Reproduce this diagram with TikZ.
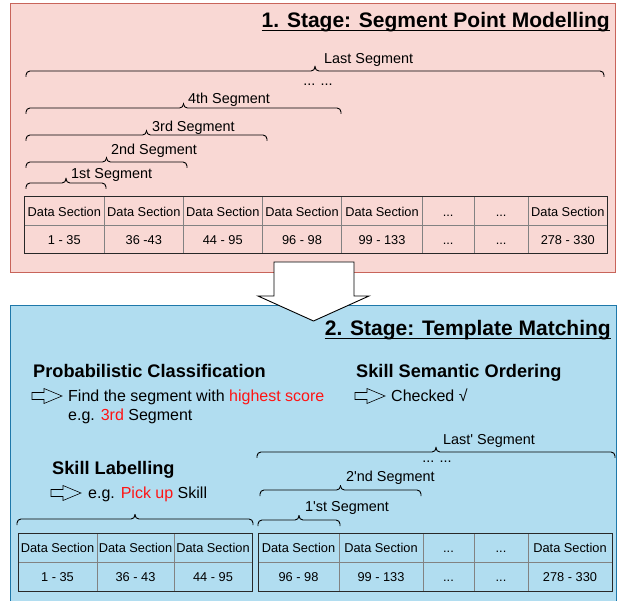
\documentclass[tikz,border=0pt]{standalone}
\usepackage{fontspec}
\setmainfont[Ligatures=TeXOff]{Liberation Sans}
\definecolor{pinkfill}{RGB}{249,216,212}
\definecolor{pinkline}{RGB}{200,100,90}
\definecolor{bluefill}{RGB}{177,221,240}
\definecolor{blueline}{RGB}{30,120,170}
\definecolor{gridgray}{RGB}{130,130,130}
\definecolor{tabdark}{RGB}{40,40,40}
\definecolor{redtxt}{RGB}{255,20,20}
\newcommand\celldots{.{}.{}.}
\newcommand\segbr[3]{%
  \draw[bracestyle] (#1,#3+6) -- (#1,#3) -- ({(#1+#2)/2},#3) -- ({(#1+#2)/2},#3-5);
  \draw[bracestyle] ({(#1+#2)/2},#3-5) -- ({(#1+#2)/2},#3) -- (#2,#3) -- (#2,#3+6);}
\newcommand\hollowarrow[2]{%
  \draw[black, line width=0.6pt, line join=miter] (#1,#2-3.5) -- (#1+12,#2-3.5) -- (#1+12,#2-7.5) -- (#1+30,#2) -- (#1+12,#2+7.5) -- (#1+12,#2+3.5) -- (#1,#2+3.5) -- cycle;}
\begin{document}
\begin{tikzpicture}[x=1pt,y=-1pt,
  cell/.style={inner sep=0pt, text height=9.16pt, text depth=0pt, font=\fontsize{12.8}{15}\selectfont},
  seglab/.style={anchor=west, inner sep=0pt, text height=10.3pt, text depth=0pt, font=\fontsize{14.4}{17}\selectfont},
  body/.style={anchor=west, inner sep=0pt, text height=11.46pt, text depth=0pt, font=\fontsize{16}{19}\selectfont},
  head/.style={anchor=west, inner sep=0pt, text height=13.0pt, text depth=0pt, font=\fontsize{18.2}{22}\selectfont\bfseries},
  stitle/.style={anchor=east, inner sep=0pt, text height=15.0pt, text depth=0pt, font=\fontsize{21}{25}\selectfont\bfseries},
  bracestyle/.style={draw=black, line width=0.9pt, rounded corners=4pt},
  tabouter/.style={draw=tabdark, line width=1pt},
  tabinner/.style={draw=gridgray, line width=0.8pt}]
\clip (0,0) rectangle (624,601);
\fill[white] (0,0) rectangle (624,601);
% panels
\draw[pinkline, fill=pinkfill, line width=1pt] (10.5,3.5) rectangle (615.5,272.5);
\draw[blueline, fill=bluefill, line width=1pt] (10.5,306) rectangle (616,640);
% block arrow
\draw[black, fill=white, line width=0.9pt] (274,262) -- (354,262) -- (354,296) -- (369,296) -- (313.5,321) -- (258,296) -- (274,296) -- cycle;

% ---------- Stage 1 ----------
\node[stitle] (t1) at (610,20) {1. Stage: Segment Point Modelling};
\draw[line width=0.9pt] ([yshift=-3pt]t1.south west) -- ([yshift=-3pt]t1.south east);

\segbr{26}{604}{71}
\node[seglab] (lastseg) at (324,58) {Last Segment};
\node[anchor=base, inner sep=0pt, font=\fontsize{14.4}{17}\selectfont] (dots1) at (318,85.5) {\celldots{} \celldots};
\segbr{26}{341}{108}
\node[seglab] (seg4) at (188,98) {4th Segment};
\segbr{26}{267}{135}
\node[seglab] (seg3) at (152,126) {3rd Segment};
\segbr{26}{187}{162}
\node[seglab] (seg2) at (111,149) {2nd Segment};
\segbr{26}{106}{183}
\node[seglab] (seg1) at (71,173) {1st Segment};

% table 1
\foreach \x in {104.3,183.3,262.3,341.7,422.3,474,528.3}
  \draw[tabinner] (\x,197) -- (\x,254);
\draw[tabinner] (24.3,225.5) -- (607.3,225.5);
\draw[tabouter] (24.3,197) rectangle (607.3,254);
\foreach [count=\i] \xa/\xb/\ta/\tb in {24.3/104.3/Data Section/1 - 35,
    104.3/183.3/Data Section/36 -43, 183.3/262.3/Data Section/44 - 95,
    262.3/341.7/Data Section/96 - 98, 341.7/422.3/Data Section/99 - 133,
    422.3/474/\celldots/\celldots, 474/528.3/\celldots/\celldots, 528.3/607.3/Data Section/278 - 330}{
  \node[cell] (ua\i) at ({(\xa+\xb)/2},211.5) {\ta};
  \node[cell] (ub\i) at ({(\xa+\xb)/2},240) {\tb};
}

% ---------- Stage 2 ----------
\node[stitle] (t2) at (611,328) {2. Stage: Template Matching};
\draw[line width=0.9pt] ([yshift=-3pt]t2.south west) -- ([yshift=-3pt]t2.south east);

\node[head] (pc) at (33,371) {Probabilistic Classification};
\hollowarrow{32}{396}
\node[body] (pc1) at (68,396) {Find the segment with \textcolor{redtxt}{highest score}};
\node[body] (pc2) at (68,415) {e.g. \textcolor{redtxt}{3rd} Segment};

\node[head] (sso) at (356,371) {Skill Semantic Ordering};
\hollowarrow{355}{396}
\node[body] (sso1) at (391,396) {Checked √};

\node[head] (sl) at (52,468) {Skill Labelling};
\hollowarrow{51}{493}
\node[body] (sl1) at (88,493) {e.g. \textcolor{redtxt}{Pick up} Skill};

% bottom braces
\segbr{17}{253}{519}
\segbr{257}{615}{452}
\node[seglab] (lastp) at (443,439) {Last' Segment};
\node[anchor=base, inner sep=0pt, font=\fontsize{14.4}{17}\selectfont] (dots2) at (437,462.5) {\celldots{} \celldots};
\segbr{260}{421}{490}
\node[seglab] (seg2p) at (346,476) {2'nd Segment};
\segbr{258}{340}{520}
\node[seglab] (seg1p) at (305,506) {1'st Segment};

% bottom-left table
\foreach \x in {97,174}
  \draw[tabinner] (\x,533) -- (\x,591);
\draw[tabinner] (18,562) -- (252,562);
\draw[tabouter] (18,533) rectangle (252,591);
\foreach [count=\i] \xa/\xb/\tb in {18/97/1 - 35, 97/174/36 - 43, 174/252/44 - 95}{
  \node[cell] (la\i) at ({(\xa+\xb)/2},548) {Data Section};
  \node[cell] (lb\i) at ({(\xa+\xb)/2},577) {\tb};
}

% bottom-right table
\foreach \x in {339,423,474,528}
  \draw[tabinner] (\x,533) -- (\x,591);
\draw[tabinner] (258,562) -- (612,562);
\draw[tabouter] (258,533) rectangle (612,591);
\foreach [count=\i] \xa/\xb/\ta/\tb in {258/339/Data Section/96 - 98,
    339/423/Data Section/99 - 133, 423/474/\celldots/\celldots, 474/528/\celldots/\celldots,
    528/612/Data Section/278 - 330}{
  \node[cell] (ra\i) at ({(\xa+\xb)/2},548) {\ta};
  \node[cell] (rb\i) at ({(\xa+\xb)/2},577) {\tb};
}
\end{tikzpicture}
\end{document}
